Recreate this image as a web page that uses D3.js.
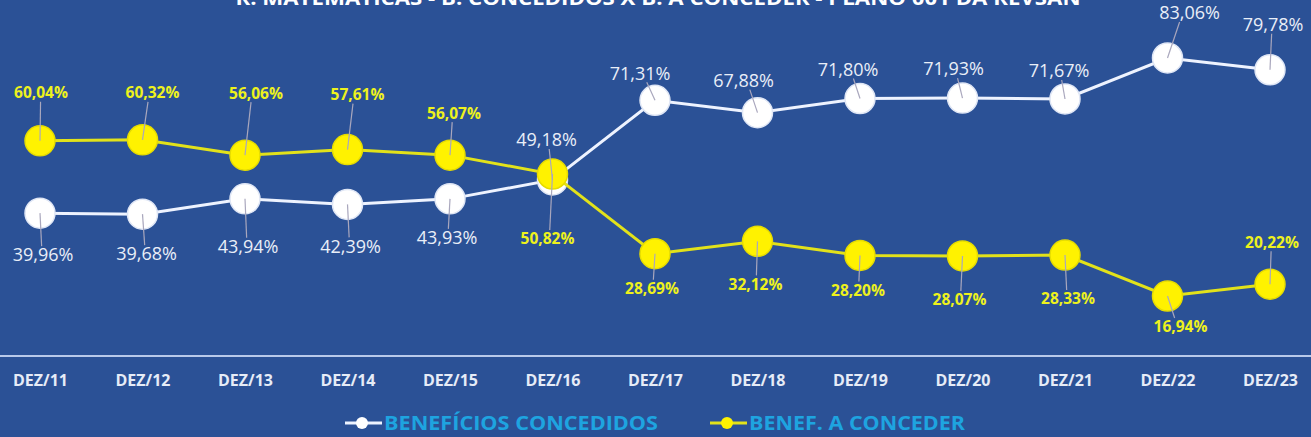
<!DOCTYPE html>
<html>
<head>
<meta charset="utf-8">
<script src="https://cdn.jsdelivr.net/npm/d3@7"></script>
<style>
  html, body { margin: 0; padding: 0; background: #2b5196; overflow: hidden; }
  svg { display: block; }
</style>
</head>
<body>
<script>
// categorias e séries
const categories = ['DEZ/11', 'DEZ/12', 'DEZ/13', 'DEZ/14', 'DEZ/15', 'DEZ/16', 'DEZ/17',
    'DEZ/18', 'DEZ/19', 'DEZ/20', 'DEZ/21', 'DEZ/22', 'DEZ/23'];
const concedidos = [39.96, 39.68, 43.94, 42.39, 43.93, 49.18, 71.31, 67.88, 71.80, 71.93, 71.67, 83.06, 79.78];
const aConceder = [60.04, 60.32, 56.06, 57.61, 56.07, 50.82, 28.69, 32.12, 28.20, 28.07, 28.33, 16.94, 20.22];
const seriesNames = ['BENEFÍCIOS  CONCEDIDOS', 'BENEF. A CONCEDER'];
const title = 'R. MATEMÁTICAS - B. CONCEDIDOS X B. A CONCEDER - PLANO 001 DA REVSAN';

// deslocamento dos rótulos (dx, dy) em px, como no Excel
const offConcedidos = [[3, 42], [4, 40], [3, 48], [3, 42], [-3, 39], [-6, -40], [-15, -27],
    [-14, -32], [-12, -29], [-9, -29], [-6, -28], [22, -45], [3, -45]];
const offAConceder = [[1, -48], [10, -47], [11, -62], [10, -55], [4, -42], [-5, 65], [-3, 35],
    [-2, 43], [-2, 35], [-3, 44], [3, 44], [13, 31], [2, -42]];

const width = 1311, height = 437;

const svg = d3.select('body')
    .append('svg')
    .attr('width', width)
    .attr('height', height);

svg.append('rect')
    .attr('width', width)
    .attr('height', height)
    .attr('fill', '#2b5196');

const x = d3.scalePoint()
    .domain(categories)
    .range([40, 1270]);

const y = d3.scaleLinear()
    .domain([0, 100])
    .range([357, -3]);

// título (cortado no topo, como na imagem)
svg.append('text')
    .attr('x', 658)
    .attr('y', 5)
    .attr('text-anchor', 'middle')
    .attr('textLength', 845)
    .attr('lengthAdjust', 'spacingAndGlyphs')
    .style('font-family', '"Open Sans", sans-serif')
    .style('font-weight', 'bold')
    .style('font-size', '20px')
    .attr('fill', '#ffffff')
    .text(title);

// eixo x
const xAxis = svg.append('g')
    .attr('transform', `translate(0, ${y(0) - 1})`)
    .call(d3.axisBottom(x).tickSize(0).tickPadding(19));
xAxis.select('.domain').remove();
xAxis.append('line')
    .attr('x1', 0).attr('x2', width)
    .attr('stroke', '#b9c9ea')
    .attr('stroke-width', 2);
xAxis.selectAll('text')
    .style('font-family', '"Open Sans", sans-serif')
    .style('font-weight', 'bold')
    .style('font-size', '16px')
    .attr('fill', '#e6ecf7');

const line = d3.line()
    .x((d, i) => x(categories[i]))
    .y(d => y(d));

function drawSeries(values, opt) {
    const g = svg.append('g');
    g.append('path')
        .datum(values)
        .attr('d', line)
        .attr('fill', 'none')
        .attr('stroke', opt.line)
        .attr('stroke-width', 3);
    g.selectAll('circle')
        .data(values)
        .join('circle')
        .attr('cx', (d, i) => x(categories[i]))
        .attr('cy', d => y(d))
        .attr('r', 15)
        .attr('fill', opt.fill)
        .attr('stroke', opt.stroke)
        .attr('stroke-width', 1.5);
}

function drawLabels(values, offsets, opt) {
    const g = svg.append('g');
    // linhas de chamada
    g.selectAll('line')
        .data(values)
        .join('line')
        .attr('x1', (d, i) => x(categories[i]))
        .attr('y1', d => y(d))
        .attr('x2', (d, i) => x(categories[i]) + offsets[i][0] * 0.55)
        .attr('y2', (d, i) => y(d) + offsets[i][1] - Math.sign(offsets[i][1]) * 9)
        .attr('stroke', '#a9a7bd')
        .attr('stroke-width', 1.2);
    g.selectAll('text')
        .data(values)
        .join('text')
        .attr('x', (d, i) => x(categories[i]) + offsets[i][0])
        .attr('y', (d, i) => y(d) + offsets[i][1])
        .attr('dy', '0.35em')
        .attr('text-anchor', 'middle')
        .style('font-family', '"Open Sans", sans-serif')
        .style('font-weight', opt.weight)
        .style('font-size', opt.size)
        .attr('fill', opt.color)
        .text(d => d.toFixed(2).replace('.', ',') + '%');
}

drawSeries(concedidos, { line: '#eef3ff', fill: '#ffffff', stroke: '#dfe6f5' });
drawSeries(aConceder, { line: '#e2e21a', fill: '#fff200', stroke: '#e6dc00' });
drawLabels(concedidos, offConcedidos, { color: '#e9eef8', weight: 'normal', size: '18px' });
drawLabels(aConceder, offAConceder, { color: '#eef21c', weight: 'bold', size: '15.5px' });

// legenda
const legend = svg.append('g')
    .attr('transform', 'translate(0, 423)');
const legendItems = [
    { name: seriesNames[0], x: 345, line: '#eef3ff', fill: '#ffffff', len: 274 },
    { name: seriesNames[1], x: 710, line: '#e2e21a', fill: '#fff200', len: 216 }
];
legendItems.forEach(it => {
    legend.append('line')
        .attr('x1', it.x).attr('x2', it.x + 37)
        .attr('stroke', it.line)
        .attr('stroke-width', 3);
    legend.append('circle')
        .attr('cx', it.x + 17)
        .attr('r', 6)
        .attr('fill', it.fill);
    legend.append('text')
        .attr('x', it.x + 39)
        .attr('dy', '0.36em')
        .attr('textLength', it.len)
        .attr('lengthAdjust', 'spacingAndGlyphs')
        .style('font-family', '"Open Sans", sans-serif')
        .style('font-weight', 'bold')
        .style('font-size', '20px')
        .attr('fill', '#1ea4e0')
        .text(it.name);
});
</script>
</body>
</html>
